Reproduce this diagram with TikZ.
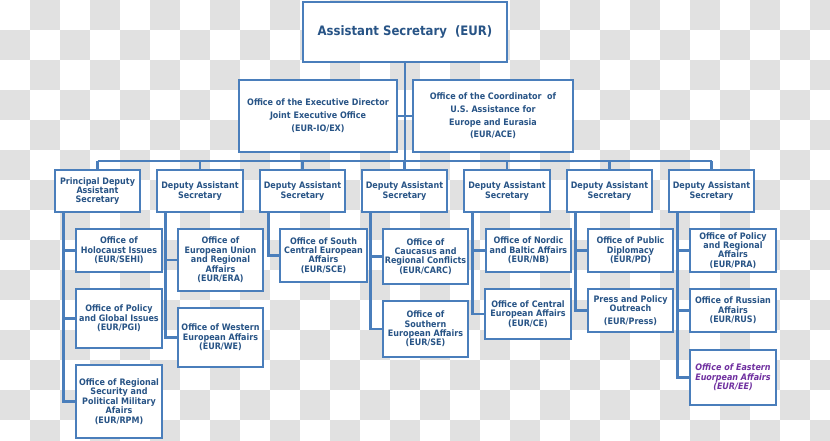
\documentclass[tikz,border=0pt]{standalone}
\usepackage{fontspec}
\setmainfont{DejaVu Sans Condensed}
\definecolor{bord}{RGB}{74,126,187}
\definecolor{txt}{RGB}{40,84,134}
\definecolor{purp}{RGB}{112,48,160}
\definecolor{chk}{RGB}{225,225,225}
\tikzset{
  box/.style={draw=bord, line width=2.9pt, fill=white, align=center, text=txt,
    font=\bfseries\fontsize{8.9}{9.4}\selectfont, inner sep=0pt},
  sz/.style 2 args={minimum width=#1pt, minimum height=#2pt},
  conn/.style={draw=bord, line width=2.9pt},
}
\begin{document}
\begin{tikzpicture}[x=1pt,y=-1pt]
\useasboundingbox (0,0) rectangle (830,441);
% checkerboard background
\begin{scope}
\clip (0,0) rectangle (830,441);
\foreach \i in {0,...,27}{
  \foreach \j in {0,...,14}{
    \pgfmathtruncatemacro{\chkpar}{mod(\i+\j,2)}
    \ifnum\chkpar=1 \fill[chk] (\i*30,\j*30) rectangle ++(30,30); \fi
  }
}
\end{scope}

% top level
\node[box, sz={204}{60}, font=\bfseries\fontsize{13}{15}\selectfont] (top) at (405,32) {Assistant Secretary~~(EUR)};
\node[box, sz={158}{72}, font=\bfseries\fontsize{8.9}{13}\selectfont] (exec) at (318,116)
  {Office of the Executive Director\\Joint Executive Office\\(EUR-IO/EX)};
\node[box, sz={160}{72}, font=\bfseries\fontsize{8.9}{12.8}\selectfont] (coord) at (493,116)
  {Office of the Coordinator~ of\\U.S. Assistance for\\Europe and Eurasia\\(EUR/ACE)};

% deputies
\node[box, sz={85}{42}] (d1) at (97.5,191) {Principal Deputy\\Assistant\\Secretary};
\node[box, sz={86}{42}] (d2) at (200,191) {Deputy Assistant\\Secretary};
\node[box, sz={85}{42}] (d3) at (302.5,191) {Deputy Assistant\\Secretary};
\node[box, sz={85}{42}] (d4) at (404.5,191) {Deputy Assistant\\Secretary};
\node[box, sz={86}{42}] (d5) at (507,191) {Deputy Assistant\\Secretary};
\node[box, sz={85}{42}] (d6) at (609.5,191) {Deputy Assistant\\Secretary};
\node[box, sz={85}{42}] (d7) at (711.5,191) {Deputy Assistant\\Secretary};

% offices
\node[box, sz={86}{43}] (hol) at (119,250.5) {Office of\\Holocaust Issues\\(EUR/SEHI)};
\node[box, sz={86}{59}] (pgi) at (119,318.5) {Office of Policy\\and Global Issues\\(EUR/PGI)};
\node[box, sz={86}{73}] (rpm) at (119,401.5) {Office of Regional\\Security and\\Political Military\\Afairs\\(EUR/RPM)};

\node[box, sz={85}{62}] (era) at (220.5,260) {Office of\\European Union\\and Regional\\Affairs\\(EUR/ERA)};
\node[box, sz={85}{59}] (we) at (220.5,337.5) {Office of Western\\European Affairs\\(EUR/WE)};

\node[box, sz={87}{53}] (sce) at (323.5,255.5) {Office of South\\Central European\\Affairs\\(EUR/SCE)};

\node[box, sz={85}{55}] (carc) at (425.5,256.5) {Office of\\Caucasus and\\Regional Conflicts\\(EUR/CARC)};
\node[box, sz={85}{56}] (se) at (425.5,329) {Office of\\Southern\\European Affairs\\(EUR/SE)};

\node[box, sz={85}{43}] (nb) at (528.5,250.5) {Office of Nordic\\and Baltic Affairs\\(EUR/NB)};
\node[box, sz={86}{50}] (ce) at (528,314) {Office of Central\\European Affairs\\(EUR/CE)};

\node[box, sz={85}{43}] (pd) at (630.5,250.5) {Office of Public\\Diplomacy\\(EUR/PD)};
\node[box, sz={85}{43}] (press) at (630.5,310.5) {Press and Policy\\Outreach\\[3pt](EUR/Press)};

\node[box, sz={86}{43}] (pra) at (733,250.5) {Office of Policy\\and Regional\\Affairs\\(EUR/PRA)};
\node[box, sz={86}{43}] (rus) at (733,310.5) {Office of Russian\\Affairs\\(EUR/RUS)};
\node[box, sz={86}{55}, text=purp, font=\bfseries\itshape\fontsize{8.9}{9.4}\selectfont] (ee) at (733,377.5) {Office of Eastern\\Euorpean Affairs\\(EUR/EE)};

% connectors
\draw[conn] (top.south) -- (405,161) coordinate (bus);
\draw[conn] (exec.east) -- (coord.west);
\draw[conn] (d1.north |- bus) -- (d7.north |- bus);
\foreach \d in {d1,d2,d3,d4,d5,d6,d7}{
  \draw[conn] (\d.north) -- (\d.north |- bus);
  \coordinate (v\d) at ([xshift=10pt]\d.south west);
}
\draw[conn] (vd1) |- (hol.west);
\draw[conn] (vd1) |- (pgi.west);
\draw[conn] (vd1) |- (rpm.west);
\draw[conn] (vd2) |- (era.west);
\draw[conn] (vd2) |- (we.west);
\draw[conn] (vd3) |- (sce.west);
\draw[conn] (vd4) |- (carc.west);
\draw[conn] (vd4) |- (se.west);
\draw[conn] (vd5) |- (nb.west);
\draw[conn] (vd5) |- (ce.west);
\draw[conn] (vd6) |- (pd.west);
\draw[conn] (vd6) |- (press.west);
\draw[conn] (vd7) |- (pra.west);
\draw[conn] (vd7) |- (rus.west);
\draw[conn] (vd7) |- (ee.west);
\end{tikzpicture}
\end{document}
